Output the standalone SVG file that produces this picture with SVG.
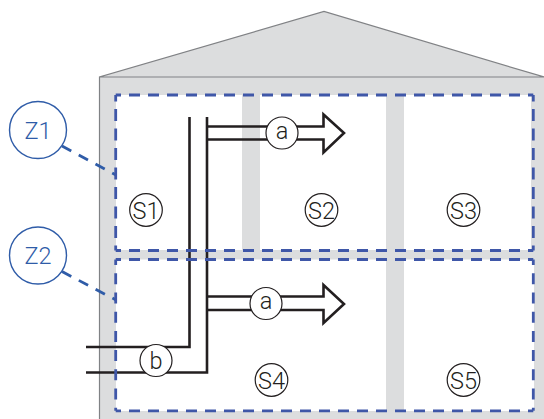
<svg xmlns="http://www.w3.org/2000/svg" width="544" height="419" viewBox="0 0 544 419">
<style>
.wall{fill:#dcddde}
.out{fill:none;stroke:#808285;stroke-width:1.2}
.zone{fill:none;stroke:#3f57a8;stroke-width:2.8}
.h{stroke-dasharray:11 8;stroke-dashoffset:5.7}
.v1{stroke-dasharray:12 7.5;stroke-dashoffset:5.5}
.v2{stroke-dasharray:11 8.2;stroke-dashoffset:5.400}
.lead{fill:none;stroke:#2f5ca8;stroke-width:2.8;stroke-dasharray:10.500 8.500}
.pipe{fill:none;stroke:#231f20;stroke-width:2.6}
.c{fill:#fff;stroke:#231f20;stroke-width:1.2}
.z{fill:#fff;stroke:#2f5ca8;stroke-width:1.4}
.t{font-family:Roboto,"Liberation Sans",sans-serif;font-size:23.500px;font-weight:300;fill:#231f20;text-anchor:middle}
.zt{fill:#2f5ca8}
</style>
<g id="house">
<path class="wall" d="M99.500 419V77L324 11.500L544 77V419Z"/>
<path fill="#fff" d="M116 95H531V250H116ZM116 259.500H534V411H116Z"/>
<rect class="wall" x="242" y="95" width="18" height="155"/>
<rect class="wall" x="386" y="95" width="18" height="316"/>
<path class="out" d="M99.500 419V77L324 11.500L544 77M99.500 77H544"/>
</g>
<g id="connectors">
<path class="pipe" d="M189.500 117V347H86"/>
<path class="pipe" d="M207 117V372.500H86"/>
<path class="pipe" d="M207 126.500H323.500V114.500L344 133L323.500 152.500V139.500H207"/>
<path class="pipe" d="M207 296.500H323.500V285L344 304L323.500 323V310H207"/>
<path class="lead" d="M62 146L116 175"/>
<path class="lead" d="M62 271.500L116 300"/>
</g>
<g id="zones">
<path class="zone h" d="M115.700 95H533.300"/>
<path class="zone h" d="M115.700 250.500H533.300"/>
<path class="zone v1" d="M115.700 95V250.500"/>
<path class="zone v1" d="M533.300 95V250.500"/>
<path class="zone h" d="M115.700 259.500H533.300"/>
<path class="zone h" d="M115.700 410.800H533.300"/>
<path class="zone v2" d="M115.700 259.500V410.800"/>
<path class="zone v2" d="M533.300 259.500V410.800"/>
</g>
<g id="Z1"><circle class="z" cx="38" cy="130" r="28.500"/><text class="t zt" x="38" y="138.500">Z1</text></g>
<g id="Z2"><circle class="z" cx="38" cy="255.500" r="28.500"/><text class="t zt" x="38" y="264">Z2</text></g>
<g id="a1"><circle class="c" cx="282" cy="133" r="16"/><text class="t" x="282" y="138.500">a</text></g>
<g id="a2"><circle class="c" cx="266" cy="303.500" r="16"/><text class="t" x="266" y="309">a</text></g>
<g id="b"><circle class="c" cx="156" cy="360.500" r="16"/><text class="t" x="156" y="368.500">b</text></g>
<g id="S1"><circle class="c" cx="146" cy="210" r="16.300"/><text class="t" x="146" y="218.500">S1</text></g>
<g id="S2"><circle class="c" cx="321.500" cy="210" r="16.300"/><text class="t" x="321.500" y="218.500">S2</text></g>
<g id="S3"><circle class="c" cx="463.500" cy="210" r="16.300"/><text class="t" x="463.500" y="218.500">S3</text></g>
<g id="S4"><circle class="c" cx="271.500" cy="380" r="16.300"/><text class="t" x="271.500" y="388.500">S4</text></g>
<g id="S5"><circle class="c" cx="463.500" cy="380" r="16.300"/><text class="t" x="463.500" y="388.500">S5</text></g>
</svg>
